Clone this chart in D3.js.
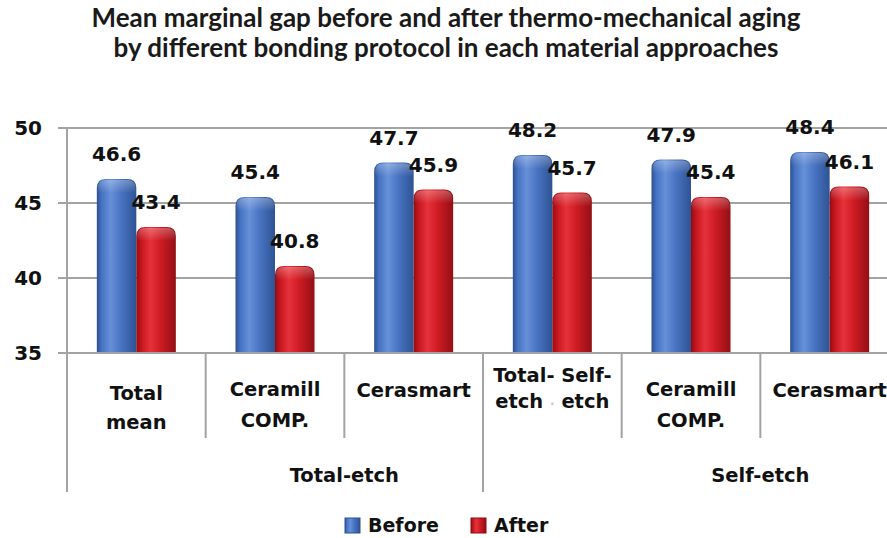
<!DOCTYPE html>
<html>
<head>
<meta charset="utf-8">
<script src="https://cdn.jsdelivr.net/npm/d3@7/dist/d3.min.js"></script>
<style>
  html, body { margin: 0; padding: 0; background: #fff; overflow: hidden; }
  svg { display: block; }
</style>
</head>
<body>
<script>
// ---- data ----
const titleLines = [
  "Mean marginal gap before and after thermo-mechanical aging",
  "by different bonding protocol in each material approaches"
];
const categories = ["Total mean", "Ceramill COMP. (TE)", "Cerasmart (TE)", "Total- Self-etch", "Ceramill COMP. (SE)", "Cerasmart (SE)"];
const categoryLines = [
  ["Total", "mean"],
  ["Ceramill", "COMP."],
  ["Cerasmart"],
  ["Total- Self-", "etch \u00b7 etch"],
  ["Ceramill", "COMP."],
  ["Cerasmart"]
];
const groups = ["Total-etch", "Self-etch"];
const groupOfCategory = [0, 0, 0, 1, 1, 1];
const seriesNames = ["Before", "After"];
const beforeValues = [46.6, 45.4, 47.7, 48.2, 47.9, 48.4];
const afterValues = [43.4, 40.8, 45.9, 45.7, 45.4, 46.1];
const yTicks = [35, 40, 45, 50];

// ---- layout ----
const W = 887, H = 538;
const plot = { left: 67, right: 899, top: 128, bottom: 353 };
const labelFont = "'DejaVu Sans', Verdana, sans-serif";

const svg = d3.select("body").append("svg").attr("width", W).attr("height", H);
const defs = svg.append("defs");

function hGrad(id, stops) {
  const g = defs.append("linearGradient").attr("id", id)
    .attr("x1", "0%").attr("x2", "100%").attr("y1", "0%").attr("y2", "0%");
  stops.forEach(([o, c]) => g.append("stop").attr("offset", o).attr("stop-color", c));
}
hGrad("gBefore", [["0%", "#2c4f90"], ["12%", "#4572c2"], ["35%", "#6690d8"], ["60%", "#4a75c3"], ["100%", "#2e5394"]]);
hGrad("gAfter", [["0%", "#8f0d13"], ["12%", "#c4151d"], ["35%", "#e6323a"], ["60%", "#d01c24"], ["100%", "#930f15"]]);
const cap = defs.append("linearGradient").attr("id", "gCap")
  .attr("x1", "0").attr("x2", "0").attr("y1", "0").attr("y2", "1");
cap.append("stop").attr("offset", "0%").attr("stop-color", "#fff").attr("stop-opacity", 0.28);
cap.append("stop").attr("offset", "100%").attr("stop-color", "#fff").attr("stop-opacity", 0);

const x0 = d3.scaleBand().domain(d3.range(categories.length)).range([plot.left, plot.right]).paddingInner(0).paddingOuter(0);
const pairW = 79;
const x1 = d3.scaleBand().domain(seriesNames)
  .range([(x0.bandwidth() - pairW) / 2, (x0.bandwidth() + pairW) / 2]);
const y = d3.scaleLinear().domain([35, 50]).range([plot.bottom, plot.top]);

const grey = "#a3a3a3";

// ---- title ----
const titleG = svg.append("g");
titleLines.forEach((t, i) => {
  const txt = titleG.append("text")
    .attr("x", 446).attr("y", 27 + i * 30)
    .attr("text-anchor", "middle")
    .attr("font-family", "Lato, 'Open Sans', sans-serif")
    .attr("font-weight", 700)
    .attr("font-size", 22)
    .attr("fill", "#1a1a1a")
    .text(t);
  const target = i === 0 ? 709 : 665;
  const w = txt.node().getComputedTextLength();
  txt.attr("font-size", 22 * target / w);
});

// ---- gridlines & y axis ----
const gridG = svg.append("g");
yTicks.forEach(t => {
  gridG.append("line")
    .attr("x1", plot.left - 9).attr("x2", W)
    .attr("y1", y(t)).attr("y2", y(t))
    .attr("stroke", grey).attr("stroke-width", 2);
  gridG.append("text")
    .attr("x", 42).attr("y", y(t) + 7)
    .attr("text-anchor", "end")
    .attr("font-family", labelFont).attr("font-weight", 700).attr("font-size", 20)
    .attr("fill", "#111")
    .text(t);
});
gridG.append("line")
  .attr("x1", plot.left).attr("x2", plot.left)
  .attr("y1", plot.top).attr("y2", plot.bottom)
  .attr("stroke", grey).attr("stroke-width", 2);

// ---- bars ----
function barPath(x, yTop, w, yBot, r) {
  return `M${x},${yBot} L${x},${yTop + r} Q${x},${yTop} ${x + r},${yTop} L${x + w - r},${yTop} Q${x + w},${yTop} ${x + w},${yTop + r} L${x + w},${yBot} Z`;
}
const rows = categories.map((c, i) => ({ i, vals: [beforeValues[i], afterValues[i]] }));
const barsG = svg.append("g");
rows.forEach(row => {
  seriesNames.forEach((s, si) => {
    const v = row.vals[si];
    const bx = x0(row.i) + x1(s);
    const bw = x1.bandwidth();
    const yt = y(v);
    barsG.append("path")
      .attr("d", barPath(bx, yt, bw, plot.bottom, 9))
      .attr("fill", si === 0 ? "url(#gBefore)" : "url(#gAfter)");
    barsG.append("path")
      .attr("d", barPath(bx + 1, yt + 1, bw - 2, yt + 14, 8))
      .attr("fill", "url(#gCap)");
  });
});
// baseline redrawn over bars
svg.append("line")
  .attr("x1", plot.left - 9).attr("x2", W)
  .attr("y1", y(35)).attr("y2", y(35))
  .attr("stroke", grey).attr("stroke-width", 2);

// ---- data labels ----
const lblG = svg.append("g");
rows.forEach(row => {
  seriesNames.forEach((s, si) => {
    const v = row.vals[si];
    lblG.append("text")
      .attr("x", x0(row.i) + x1(s) + x1.bandwidth() / 2)
      .attr("y", y(v) - 18)
      .attr("text-anchor", "middle")
      .attr("font-family", labelFont).attr("font-weight", 700).attr("font-size", 20)
      .attr("fill", "#111")
      .text(v.toFixed(1));
  });
});

// ---- category axis (two levels) ----
const axG = svg.append("g");
categories.forEach((c, i) => {
  if (i > 0 && groupOfCategory[i] === groupOfCategory[i - 1]) {
    axG.append("line")
      .attr("x1", x0(i)).attr("x2", x0(i))
      .attr("y1", plot.bottom).attr("y2", 438)
      .attr("stroke", grey).attr("stroke-width", 2);
  }
});
// group separators
const groupStarts = groups.map((g, gi) => groupOfCategory.indexOf(gi));
groupStarts.concat([categories.length]).forEach(idx => {
  const xx = idx < categories.length ? x0(idx) : plot.right;
  axG.append("line")
    .attr("x1", xx).attr("x2", xx)
    .attr("y1", plot.bottom).attr("y2", 492)
    .attr("stroke", grey).attr("stroke-width", 2);
});
const firstBaseline = [400, 396, 397, 382, 396, 397];
const lineGap = [29, 31, 30, 26, 31, 30];
categoryLines.forEach((lines, i) => {
  const t = axG.append("text")
    .attr("text-anchor", "middle")
    .attr("font-family", labelFont).attr("font-weight", 700).attr("font-size", 19.5)
    .attr("fill", "#111");
  lines.forEach((ln, li) => {
    const cx = x0(i) + x0.bandwidth() / 2;
    const ts = t.append("tspan").attr("x", cx).attr("y", firstBaseline[i] + li * lineGap[i]);
    if (ln.includes("\u00b7")) {
      const parts = ln.split("\u00b7");
      ts.append("tspan").text(parts[0]);
      ts.append("tspan").attr("fill", "#c8c8c8").attr("font-size", 12).text("\u00b7");
      ts.append("tspan").text(parts[1]);
    } else {
      ts.text(ln);
    }
  });
});
groups.forEach((g, gi) => {
  const idxs = groupOfCategory.map((v, k) => v === gi ? k : -1).filter(k => k >= 0);
  const gx0 = x0(idxs[0]), gx1 = x0(idxs[idxs.length - 1]) + x0.bandwidth();
  axG.append("text")
    .attr("x", (gx0 + gx1) / 2 + x0.step() / 2)
    .attr("y", 482)
    .attr("text-anchor", "middle")
    .attr("font-family", labelFont).attr("font-weight", 700).attr("font-size", 19.5)
    .attr("fill", "#111")
    .text(g);
});

// ---- legend ----
const legG = svg.append("g");
const legendX = [345, 471];
seriesNames.forEach((s, si) => {
  legG.append("rect")
    .attr("x", legendX[si]).attr("y", 518).attr("width", 15).attr("height", 15)
    .attr("fill", si === 0 ? "url(#gBefore)" : "url(#gAfter)")
    .attr("stroke", si === 0 ? "#2e5394" : "#8f0d13").attr("stroke-width", 1);
  legG.append("text")
    .attr("x", legendX[si] + 23).attr("y", 532)
    .attr("font-family", labelFont).attr("font-weight", 700).attr("font-size", 19)
    .attr("fill", "#111")
    .text(s);
});
</script>
</body>
</html>
